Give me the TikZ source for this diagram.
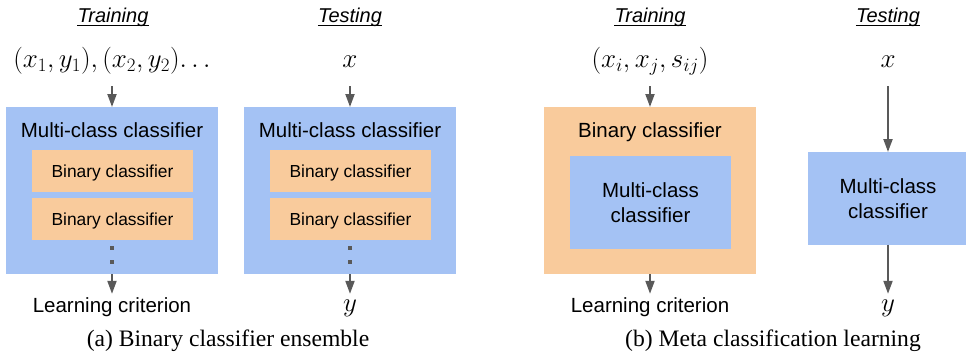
\RequirePackage{fix-cm}
\documentclass[tikz,border=0pt]{standalone}
\usepackage{fontspec}
\setmainfont{Liberation Sans}
\newfontfamily\capfont{Liberation Serif}
\usetikzlibrary{arrows.meta}
\definecolor{boxblue}{HTML}{A4C2F4}
\definecolor{boxorange}{HTML}{F9CB9C}
\definecolor{arrgray}{HTML}{595959}

\begin{document}
\begin{tikzpicture}[x=1pt,y=-1pt,
  bluebox/.style={fill=boxblue, draw=none, inner sep=0, outer sep=0},
  orangebox/.style={fill=boxorange, draw=none, inner sep=0, outer sep=0},
  smallbin/.style={orangebox, minimum width=161pt, minimum height=42pt,
    font=\fontsize{17.4}{21}\selectfont, text height=12.5pt, text depth=0pt},
  lbl/.style={font=\fontsize{20.5}{25}\selectfont, inner sep=0, anchor=base},
  head/.style={font=\fontsize{20}{24}\selectfont\itshape, inner sep=0, anchor=base, text depth=2.8pt},
  inmath/.style={font=\fontsize{27}{32}\selectfont, inner sep=0, anchor=base, text depth=7pt},
  outlbl/.style={lbl, text height=15pt, text depth=5pt},
  outmath/.style={outlbl, font=\fontsize{27}{32}\selectfont},
  caption/.style={font=\capfont\fontsize{23.6}{28}\selectfont, inner sep=0, anchor=base},
  dotmark/.style={fill=arrgray, draw=none, inner sep=0, minimum size=3.5pt},
  flow/.style={draw=arrgray, line width=2pt, -{Triangle[length=13pt,width=9pt]}},
  uline/.style={draw=black, line width=1.1pt}
]
\useasboundingbox (0,0) rectangle (966,354);

% ---------- (a) Binary classifier ensemble: training ----------
\node[head] (hTrA) at (113,22.7) {Training};
\draw[uline] (hTrA.south west) -- (hTrA.south east);
\node[inmath] (inA) at (112,67.5) {$(x_1,y_1),(x_2,y_2)\ldotp\ldotp\ldotp$};
\node[bluebox, minimum width=212pt, minimum height=167pt] (mA) at (112,190.5) {};
\node[lbl] (mAt) at (112,137) {Multi-class classifier};
\node[smallbin] (bA1) at (112.5,171) {Binary classifier};
\node[smallbin] (bA2) at (112.5,218.9) {Binary classifier};
\node[dotmark] (dA1) at (112,248) {};
\node[dotmark] (dA2) at (112,262) {};
\node[outlbl] (oA) at (112,312) {Learning criterion};
\draw[flow, shorten <=11.5pt] (inA.south) -- (mA.north);
\draw[flow, shorten >=3pt] (mA.south) -- (oA.north);

% ---------- (a) testing ----------
\node[head] (hTeA) at (350,22.7) {Testing};
\draw[uline] (hTeA.south west) -- (hTeA.south east);
\node[inmath] (inB) at (350,67.5) {$x$};
\node[bluebox, minimum width=212pt, minimum height=167pt] (mB) at (350,190.5) {};
\node[lbl] (mBt) at (350,137) {Multi-class classifier};
\node[smallbin] (bB1) at (350.5,171) {Binary classifier};
\node[smallbin] (bB2) at (350.5,218.9) {Binary classifier};
\node[dotmark] (dB1) at (350,248) {};
\node[dotmark] (dB2) at (350,262) {};
\node[outmath] (oB) at (350,311.5) {$y$};
\draw[flow, shorten <=11.5pt] (inB.south) -- (mB.north);
\draw[flow, shorten >=2.5pt] (mB.south) -- (oB.north);

\node[caption] (capA) at (228,346) {(a) Binary classifier ensemble};

% ---------- (b) Meta classification learning: training ----------
\node[head] (hTrB) at (650,22.7) {Training};
\draw[uline] (hTrB.south west) -- (hTrB.south east);
\node[inmath] (inC) at (650,67.5) {$(x_i,x_j,s_{ij})$};
\node[orangebox, minimum width=212pt, minimum height=167pt] (bC) at (650,190.5) {};
\node[lbl] (bCt) at (650,137) {Binary classifier};
\node[bluebox, minimum width=161pt, minimum height=93.3pt, align=center,
      font=\fontsize{20.5}{25}\selectfont] (mC) at (650.5,202.35) {Multi-class\\classifier};
\node[outlbl] (oC) at (650,312) {Learning criterion};
\draw[flow, shorten <=11.5pt] (inC.south) -- (bC.north);
\draw[flow, shorten >=3pt] (bC.south) -- (oC.north);

% ---------- (b) testing ----------
\node[head] (hTeB) at (888,22.7) {Testing};
\draw[uline] (hTeB.south west) -- (hTeB.south east);
\node[inmath] (inD) at (888,67.5) {$x$};
\node[bluebox, minimum width=160pt, minimum height=92.7pt, align=center,
      font=\fontsize{20.5}{25}\selectfont] (mD) at (888,198.35) {Multi-class\\classifier};
\node[outmath] (oD) at (888,311.5) {$y$};
\draw[flow, shorten <=11.5pt] (inD.south) -- (mD.north);
\draw[flow, shorten >=2.5pt] (mD.south) -- (oD.north);

\node[caption] (capB) at (773,346) {(b) Meta classification learning};
\end{tikzpicture}
\end{document}
